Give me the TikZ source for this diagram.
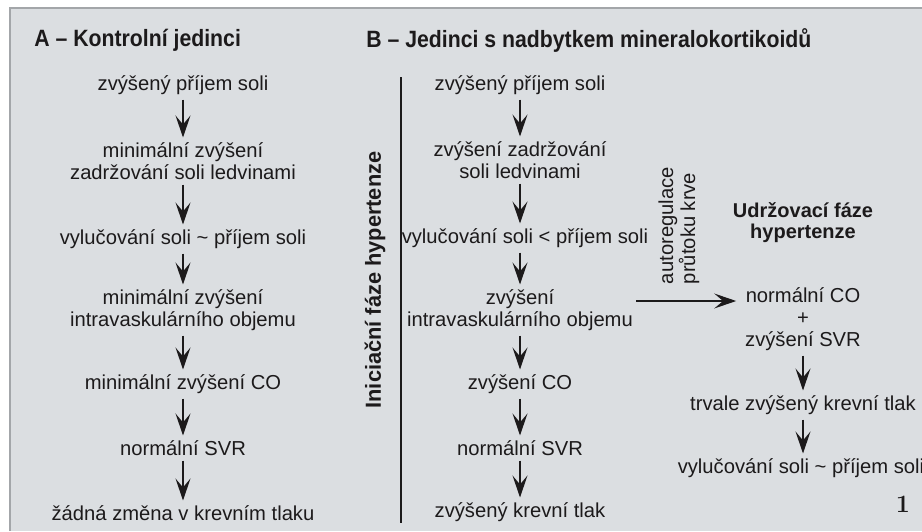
\documentclass[tikz,border=0pt]{standalone}
\usepackage{fontspec}
\newfontfamily\arial{Liberation Sans}
\newfontfamily\headfont[FakeStretch=0.9]{Liberation Sans}
\usetikzlibrary{arrows.meta}
\definecolor{panel}{HTML}{DBDEE1}
\definecolor{edge}{HTML}{A3A6A9}
\definecolor{ink}{HTML}{1C1A1B}
\begin{document}
\begin{tikzpicture}[x=0.5pt,y=-0.5pt,
  every node/.style={text=ink},
  txt/.style={font=\arial\fontsize{10.1}{11}\selectfont, align=center, inner sep=0pt, outer sep=2.5pt},
  head/.style={font=\headfont\bfseries\fontsize{11.8}{13}\selectfont, anchor=west, inner sep=0pt},
  bhead/.style={font=\arial\bfseries\fontsize{10}{10.5}\selectfont, align=center, inner sep=0pt},
  arr/.style={-{Stealth[length=11pt,width=7.5pt,inset=4.5pt]}, line width=0.6pt, draw=ink}]
\useasboundingbox (0,0) rectangle (922,531);
\fill[panel] (10,8) rectangle (922,531);
\draw[edge, line width=1pt] (10,531) -- (10,8) -- (922,8);

% headings
\node[head] (ha) at (34,40) {A – Kontrolní jedinci};
\node[head] (hb) at (366,40) {B – Jedinci s nadbytkem mineralokortikoidů};

% column A
\node[txt] (a1) at (183,85) {zvýšený příjem soli};
\node[txt] (a2) at (183,161) {minimální zvýšení\\zadržování soli ledvinami};
\node[txt] (a3) at (183,239) {vylučování soli \textasciitilde{} příjem soli};
\node[txt] (a4) at (183,310) {minimální zvýšení\\intravaskulárního objemu};
\node[txt] (a5) at (183,384) {minimální zvýšení CO};
\node[txt] (a6) at (183,448) {normální SVR};
\node[txt] (a7) at (183,513) {žádná změna v krevním tlaku};
\foreach \p/\q in {a1/a2,a2/a3,a3/a4,a4/a5,a5/a6,a6/a7} \draw[arr] (\p) -- (\q);

% column B
\node[txt] (b1) at (520,85) {zvýšený příjem soli};
\node[txt] (b2) at (520,160) {zvýšení zadržování\\soli ledvinami};
\node[txt] (b3) at (525,238) {vylučování soli < příjem soli};
\node[txt] (b4) at (520,310) {zvýšení\\intravaskulárního objemu};
\node[txt] (b5) at (520,384) {zvýšení CO};
\node[txt] (b6) at (520,448) {normální SVR};
\node[txt] (b7) at (520,512) {zvýšený krevní tlak};
\draw[arr] (b1) -- (b2);
\draw[arr] (b2.south) -- (b2.south |- b3.north);
\draw[arr] (b2.south |- b3.south) -- (b4);
\foreach \p/\q in {b4/b5,b5/b6,b6/b7} \draw[arr] (\p) -- (\q);

% separator and phase label
\draw[ink, line width=1pt] (401,77) -- (401,523);
\node[bhead, font=\arial\bfseries\fontsize{10.9}{12}\selectfont, rotate=90] (ini) at (375,280) {Iniciační fáze hypertenze};

% maintenance phase
\node[bhead] (ud) at (803,223) {Udržovací fáze\\hypertenze};
\node[txt] (r1) at (803,319) {normální CO\\+\\zvýšení SVR};
\node[txt] (r2) at (803,405) {trvale zvýšený krevní tlak};
\node[txt] (r3) at (801,468) {vylučování soli \textasciitilde{} příjem soli};
\draw[arr] (r1) -- (r2);
\draw[arr] (r2.south) -- (r2.south |- r3.north);

\coordinate (hs) at (636,301);
\draw[arr, shorten >=2pt] (hs) -- (hs -| r1.west);
\node[txt, rotate=90, anchor=west, align=left, outer sep=0pt] (auto) at (679,284) {autoregulace\\průtoku krve};

\node[font=\bfseries\fontsize{12.5}{12.5}\selectfont, inner sep=0pt] (num) at (903,504) {1};
\end{tikzpicture}
\end{document}
